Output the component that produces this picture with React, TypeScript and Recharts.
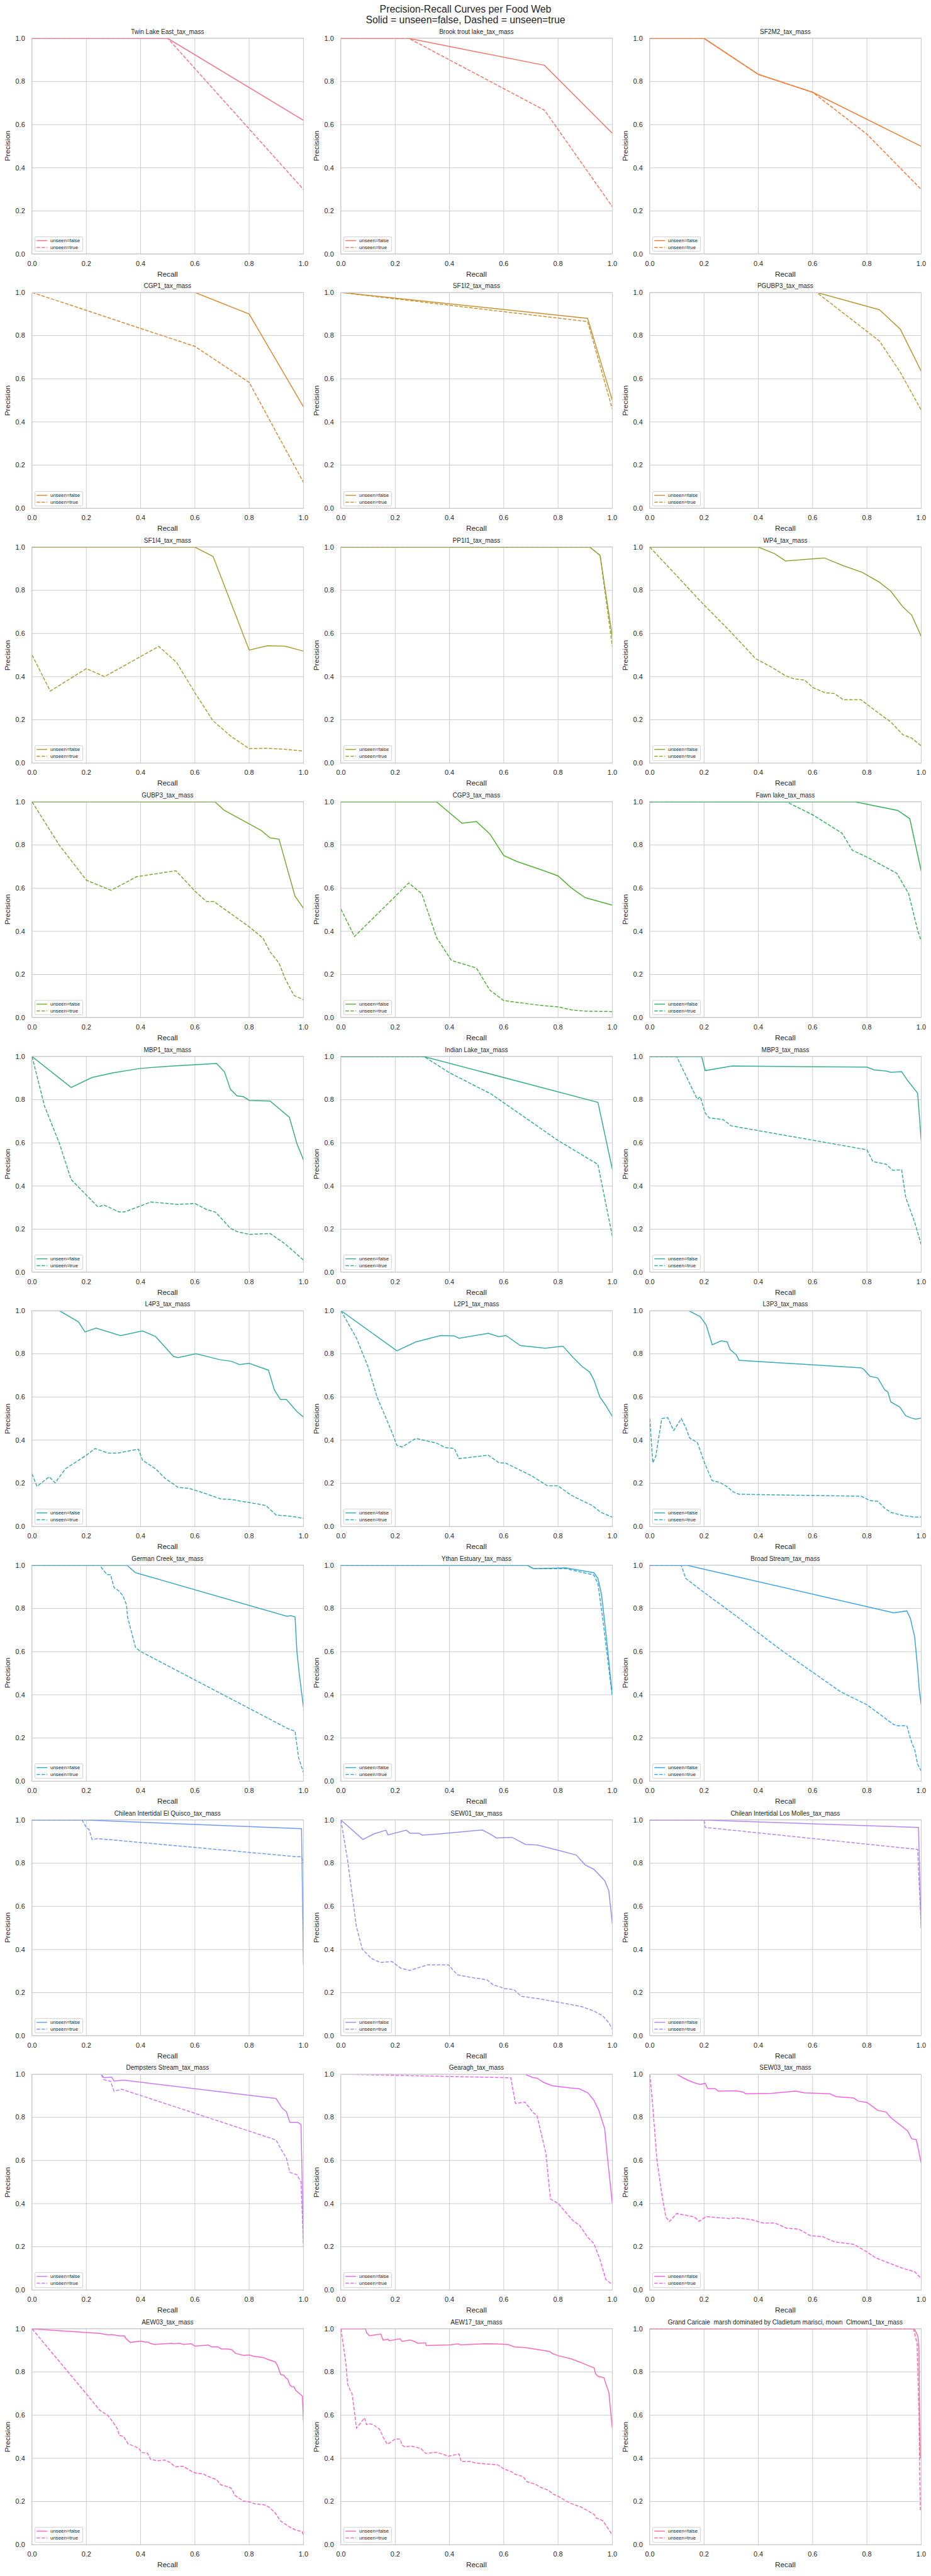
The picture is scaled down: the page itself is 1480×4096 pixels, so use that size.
import React from 'react';
import { LineChart, Line, XAxis, YAxis, CartesianGrid } from 'recharts';

type Pt = [number, number];

// ---------------- data: [recall, precision] ----------------
const twinLakeSolid: Pt[] = [[0, 1], [0.5, 1], [1, 0.62]];
const twinLakeDashed: Pt[] = [[0, 1], [0.5, 1], [1, 0.3]];

const brookTroutSolid: Pt[] = [[0, 1], [0.25, 1], [0.75, 0.875], [1, 0.56]];
const brookTroutDashed: Pt[] = [[0, 1], [0.25, 1], [0.75, 0.667], [1, 0.22]];

const sf2m2Solid: Pt[] = [[0, 1], [0.2, 1], [0.4, 0.833], [0.6, 0.75], [1, 0.5]];
const sf2m2Dashed: Pt[] = [[0, 1], [0.2, 1], [0.4, 0.833], [0.6, 0.75], [0.8, 0.556], [1, 0.3]];

const cgp1Solid: Pt[] = [[0, 1], [0.6, 1], [0.8, 0.9], [1, 0.47]];
const cgp1Dashed: Pt[] = [[0, 1], [0.2, 0.917], [0.4, 0.833], [0.6, 0.75], [0.8, 0.583], [1, 0.12]];

const sf1i2Solid: Pt[] = [[0, 1], [0.909, 0.88], [1, 0.5]];
const sf1i2Dashed: Pt[] = [[0, 1], [0.909, 0.865], [1, 0.46]];

const pgubp3Solid: Pt[] = [[0, 1], [0.615, 1], [0.846, 0.92], [0.923, 0.83], [1, 0.635]];
const pgubp3Dashed: Pt[] = [[0, 1], [0.615, 1], [0.846, 0.775], [0.923, 0.63], [1, 0.455]];

const sf1i4Solid: Pt[] = [[0, 1], [0.6, 1], [0.667, 0.957], [0.8, 0.523], [0.867, 0.543], [0.933, 0.541], [1, 0.518]];
const sf1i4Dashed: Pt[] = [[0, 0.5], [0.067, 0.333], [0.2, 0.437], [0.267, 0.4], [0.467, 0.54], [0.533, 0.465], [0.6, 0.325], [0.667, 0.195], [0.733, 0.123], [0.8, 0.066], [0.867, 0.068], [0.933, 0.063], [1, 0.055]];

const pp1i1Solid: Pt[] = [[0, 1], [0.917, 1], [0.955, 0.962], [1, 0.585]];
const pp1i1Dashed: Pt[] = [[0, 1], [0.917, 1], [0.955, 0.962], [1, 0.54]];

const wp4Solid: Pt[] = [[0, 1], [0.4, 1], [0.46, 0.97], [0.5, 0.936], [0.643, 0.95], [0.713, 0.914], [0.783, 0.883], [0.844, 0.839], [0.888, 0.796], [0.932, 0.724], [0.965, 0.685], [1, 0.587]];
const wp4Dashed: Pt[] = [[0, 1], [0.197, 0.736], [0.296, 0.61], [0.39, 0.483], [0.45, 0.443], [0.5, 0.404], [0.53, 0.39], [0.57, 0.384], [0.603, 0.348], [0.647, 0.325], [0.68, 0.322], [0.713, 0.293], [0.778, 0.293], [0.844, 0.23], [0.888, 0.19], [0.932, 0.131], [0.965, 0.115], [1, 0.079]];

const gubp3Solid: Pt[] = [[0, 1], [0.674, 1], [0.707, 0.962], [0.845, 0.867], [0.877, 0.833], [0.91, 0.827], [0.969, 0.562], [1, 0.507]];
const gubp3Dashed: Pt[] = [[0, 1], [0.1, 0.8], [0.2, 0.637], [0.291, 0.59], [0.385, 0.653], [0.53, 0.681], [0.6, 0.586], [0.643, 0.538], [0.67, 0.538], [0.8, 0.421], [0.851, 0.368], [0.877, 0.305], [0.91, 0.253], [0.932, 0.182], [0.965, 0.103], [1, 0.083]];

const cgp3Solid: Pt[] = [[0, 1], [0.352, 1], [0.446, 0.901], [0.499, 0.909], [0.549, 0.851], [0.6, 0.751], [0.648, 0.724], [0.748, 0.681], [0.8, 0.657], [0.849, 0.601], [0.9, 0.556], [1, 0.521]];
const cgp3Dashed: Pt[] = [[0, 0.503], [0.05, 0.376], [0.2, 0.562], [0.25, 0.624], [0.298, 0.574], [0.352, 0.372], [0.407, 0.265], [0.499, 0.23], [0.549, 0.127], [0.6, 0.079], [0.648, 0.071], [0.748, 0.055], [0.8, 0.05], [0.849, 0.036], [0.9, 0.03], [1, 0.028]];

const fawnLakeSolid: Pt[] = [[0, 1], [0.757, 1], [0.914, 0.96], [0.958, 0.922], [1, 0.68]];
const fawnLakeDashed: Pt[] = [[0, 1], [0.504, 1], [0.603, 0.938], [0.708, 0.855], [0.746, 0.776], [0.8, 0.744], [0.91, 0.669], [0.954, 0.574], [0.987, 0.404], [1, 0.356]];

const mbp1Solid: Pt[] = [[0, 1], [0.144, 0.857], [0.221, 0.903], [0.3, 0.925], [0.398, 0.945], [0.5, 0.955], [0.6, 0.962], [0.68, 0.968], [0.709, 0.929], [0.731, 0.848], [0.755, 0.818], [0.779, 0.814], [0.8, 0.797], [0.877, 0.794], [0.948, 0.719], [0.976, 0.596], [1, 0.521]];
const mbp1Dashed: Pt[] = [[0, 1], [0.02, 0.9], [0.046, 0.77], [0.1, 0.6], [0.144, 0.43], [0.243, 0.303], [0.265, 0.312], [0.32, 0.28], [0.341, 0.28], [0.438, 0.326], [0.534, 0.315], [0.6, 0.319], [0.643, 0.291], [0.676, 0.279], [0.731, 0.204], [0.757, 0.188], [0.8, 0.176], [0.877, 0.18], [0.932, 0.132], [1, 0.057]];

const indianLakeSolid: Pt[] = [[0, 1], [0.306, 1], [0.947, 0.788], [1, 0.478]];
const indianLakeDashed: Pt[] = [[0, 1], [0.306, 1], [0.4, 0.925], [0.554, 0.826], [0.8, 0.611], [0.947, 0.5], [1, 0.168]];

const mbp3Solid: Pt[] = [[0, 1], [0.191, 1], [0.204, 0.935], [0.303, 0.956], [0.8, 0.951], [0.827, 0.938], [0.871, 0.933], [0.888, 0.927], [0.928, 0.93], [0.95, 0.889], [0.987, 0.83], [1, 0.612]];
const mbp3Dashed: Pt[] = [[0, 1], [0.099, 1], [0.175, 0.802], [0.186, 0.814], [0.204, 0.739], [0.219, 0.716], [0.27, 0.708], [0.3, 0.679], [0.8, 0.568], [0.822, 0.513], [0.871, 0.501], [0.895, 0.473], [0.928, 0.475], [0.943, 0.347], [0.976, 0.232], [1, 0.129]];

const l4p3Solid: Pt[] = [[0, 1], [0.1, 1], [0.171, 0.948], [0.195, 0.901], [0.236, 0.919], [0.326, 0.884], [0.407, 0.906], [0.455, 0.88], [0.521, 0.788], [0.538, 0.782], [0.604, 0.8], [0.691, 0.773], [0.735, 0.765], [0.764, 0.75], [0.8, 0.756], [0.871, 0.724], [0.893, 0.632], [0.915, 0.588], [0.937, 0.588], [0.954, 0.564], [0.976, 0.532], [1, 0.507]];
const l4p3Dashed: Pt[] = [[0, 0.243], [0.018, 0.185], [0.063, 0.23], [0.085, 0.202], [0.123, 0.267], [0.2, 0.33], [0.232, 0.361], [0.28, 0.34], [0.315, 0.34], [0.392, 0.358], [0.407, 0.307], [0.455, 0.267], [0.49, 0.223], [0.538, 0.181], [0.578, 0.176], [0.621, 0.16], [0.696, 0.127], [0.735, 0.125], [0.768, 0.117], [0.8, 0.111], [0.862, 0.097], [0.899, 0.053], [0.937, 0.049], [0.976, 0.043], [1, 0.037]];

const l2p1Solid: Pt[] = [[0, 1], [0.206, 0.814], [0.276, 0.855], [0.368, 0.885], [0.418, 0.883], [0.435, 0.872], [0.543, 0.895], [0.582, 0.879], [0.608, 0.885], [0.661, 0.838], [0.753, 0.826], [0.818, 0.835], [0.856, 0.782], [0.888, 0.742], [0.917, 0.715], [0.932, 0.679], [0.954, 0.6], [0.976, 0.56], [1, 0.51]];
const l2p1Dashed: Pt[] = [[0, 1], [0.057, 0.873], [0.1, 0.739], [0.133, 0.6], [0.188, 0.436], [0.206, 0.376], [0.225, 0.368], [0.276, 0.408], [0.352, 0.386], [0.385, 0.365], [0.418, 0.361], [0.435, 0.314], [0.543, 0.33], [0.582, 0.295], [0.608, 0.293], [0.702, 0.235], [0.761, 0.188], [0.8, 0.188], [0.849, 0.144], [0.888, 0.12], [0.926, 0.097], [0.958, 0.065], [1, 0.043]];

const l3p3Solid: Pt[] = [[0, 1], [0.143, 1], [0.186, 0.972], [0.208, 0.933], [0.23, 0.842], [0.263, 0.86], [0.285, 0.855], [0.296, 0.82], [0.318, 0.796], [0.329, 0.77], [0.779, 0.735], [0.789, 0.727], [0.811, 0.696], [0.84, 0.688], [0.866, 0.632], [0.877, 0.624], [0.888, 0.577], [0.921, 0.553], [0.943, 0.513], [0.965, 0.502], [0.98, 0.497], [1, 0.502]];
const l3p3Dashed: Pt[] = [[0, 0.5], [0.011, 0.295], [0.022, 0.325], [0.044, 0.5], [0.066, 0.504], [0.088, 0.444], [0.116, 0.5], [0.132, 0.46], [0.147, 0.409], [0.175, 0.389], [0.204, 0.287], [0.23, 0.212], [0.257, 0.204], [0.285, 0.184], [0.307, 0.16], [0.329, 0.149], [0.779, 0.14], [0.811, 0.12], [0.84, 0.116], [0.866, 0.084], [0.888, 0.065], [0.932, 0.051], [0.976, 0.043], [1, 0.043]];

const germanCreekSolid: Pt[] = [[0, 1], [0.35, 1], [0.381, 0.966], [0.398, 0.96], [0.939, 0.764], [0.954, 0.767], [0.969, 0.761], [0.976, 0.599], [0.985, 0.492], [1, 0.342]];
const germanCreekDashed: Pt[] = [[0, 1], [0.249, 1], [0.276, 0.957], [0.289, 0.957], [0.302, 0.897], [0.319, 0.882], [0.335, 0.859], [0.348, 0.816], [0.352, 0.76], [0.381, 0.62], [0.398, 0.602], [0.943, 0.243], [0.969, 0.231], [0.982, 0.109], [1, 0.04]];

const ythanSolid: Pt[] = [[0, 1], [0.687, 1], [0.709, 0.985], [0.829, 0.988], [0.932, 0.966], [0.947, 0.939], [0.96, 0.867], [0.976, 0.691], [1, 0.4]];
const ythanDashed: Pt[] = [[0, 1], [0.687, 1], [0.709, 0.985], [0.829, 0.985], [0.932, 0.955], [0.947, 0.915], [0.965, 0.75], [1, 0.39]];

const broadStreamSolid: Pt[] = [[0, 1], [0.138, 1], [0.899, 0.78], [0.947, 0.789], [0.96, 0.755], [0.969, 0.706], [0.976, 0.668], [0.987, 0.522], [0.993, 0.423], [1, 0.354]];
const broadStreamDashed: Pt[] = [[0, 1], [0.116, 1], [0.132, 0.94], [0.197, 0.877], [0.296, 0.786], [0.493, 0.599], [0.702, 0.415], [0.8, 0.354], [0.899, 0.262], [0.914, 0.257], [0.947, 0.257], [0.965, 0.178], [0.976, 0.147], [0.987, 0.078], [1, 0.047]];

const elQuiscoSolid: Pt[] = [[0, 1], [0.2, 1], [0.993, 0.96], [1, 0.33]];
const elQuiscoDashed: Pt[] = [[0, 1], [0.184, 1], [0.2, 0.966], [0.21, 0.956], [0.221, 0.91], [0.243, 0.914], [0.976, 0.83], [0.993, 0.83], [1, 0.8]];

const sew01Solid: Pt[] = [[0, 1], [0.081, 0.91], [0.12, 0.935], [0.166, 0.953], [0.173, 0.931], [0.241, 0.953], [0.254, 0.939], [0.287, 0.939], [0.3, 0.93], [0.363, 0.936], [0.521, 0.954], [0.55, 0.935], [0.573, 0.917], [0.63, 0.92], [0.68, 0.887], [0.724, 0.884], [0.8, 0.86], [0.867, 0.838], [0.9, 0.792], [0.932, 0.772], [0.972, 0.719], [0.987, 0.673], [1, 0.52]];
const sew01Dashed: Pt[] = [[0, 1], [0.024, 0.818], [0.057, 0.505], [0.079, 0.401], [0.112, 0.359], [0.144, 0.34], [0.188, 0.344], [0.221, 0.313], [0.254, 0.303], [0.319, 0.329], [0.396, 0.329], [0.429, 0.283], [0.473, 0.272], [0.538, 0.26], [0.56, 0.237], [0.604, 0.219], [0.637, 0.214], [0.665, 0.183], [0.724, 0.173], [0.8, 0.156], [0.888, 0.135], [0.932, 0.115], [0.965, 0.092], [0.987, 0.061], [1, 0.031]];

const losMollesSolid: Pt[] = [[0, 1], [0.2, 1], [0.99, 0.966], [1, 0.5]];
const losMollesDashed: Pt[] = [[0, 1], [0.2, 1], [0.204, 0.966], [0.987, 0.864], [1, 0.5]];

const dempstersSolid: Pt[] = [[0, 1], [0.254, 1], [0.265, 0.983], [0.293, 0.986], [0.302, 0.968], [0.337, 0.972], [0.899, 0.887], [0.921, 0.843], [0.937, 0.826], [0.95, 0.776], [0.98, 0.776], [0.991, 0.766], [1, 0.223]];
const dempstersDashed: Pt[] = [[0, 1], [0.254, 1], [0.265, 0.974], [0.289, 0.967], [0.302, 0.921], [0.33, 0.93], [0.899, 0.695], [0.917, 0.652], [0.937, 0.612], [0.95, 0.544], [0.976, 0.534], [0.991, 0.5], [1, 0.2]];

const gearaghSolid: Pt[] = [[0, 1], [0.678, 1], [0.707, 0.984], [0.722, 0.982], [0.746, 0.962], [0.779, 0.946], [0.845, 0.936], [0.877, 0.933], [0.91, 0.913], [0.932, 0.879], [0.95, 0.833], [0.972, 0.746], [0.981, 0.627], [1, 0.401]];
const gearaghDashed: Pt[] = [[0, 1], [0.626, 0.983], [0.643, 0.864], [0.678, 0.87], [0.711, 0.818], [0.722, 0.81], [0.755, 0.635], [0.772, 0.421], [0.8, 0.401], [0.854, 0.322], [0.88, 0.298], [0.91, 0.243], [0.932, 0.215], [0.954, 0.143], [0.976, 0.048], [1, 0.025]];

const sew03Solid: Pt[] = [[0, 1], [0.099, 1], [0.121, 0.984], [0.143, 0.97], [0.164, 0.96], [0.186, 0.952], [0.204, 0.958], [0.213, 0.933], [0.241, 0.933], [0.252, 0.921], [0.318, 0.923], [0.344, 0.917], [0.353, 0.909], [0.45, 0.911], [0.537, 0.921], [0.57, 0.913], [0.664, 0.909], [0.686, 0.896], [0.752, 0.889], [0.768, 0.875], [0.8, 0.869], [0.84, 0.832], [0.871, 0.824], [0.888, 0.798], [0.921, 0.766], [0.95, 0.737], [0.965, 0.7], [0.982, 0.697], [1, 0.588]];
const sew03Dashed: Pt[] = [[0, 1], [0.011, 0.85], [0.026, 0.604], [0.044, 0.445], [0.059, 0.338], [0.072, 0.317], [0.099, 0.354], [0.132, 0.346], [0.164, 0.338], [0.182, 0.318], [0.208, 0.34], [0.296, 0.33], [0.318, 0.334], [0.373, 0.326], [0.417, 0.31], [0.461, 0.31], [0.504, 0.286], [0.548, 0.282], [0.592, 0.251], [0.636, 0.247], [0.68, 0.223], [0.752, 0.211], [0.8, 0.176], [0.833, 0.148], [0.866, 0.132], [0.899, 0.116], [0.932, 0.1], [0.976, 0.084], [1, 0.052]];

const aew03Solid: Pt[] = [[0, 1], [0.249, 0.979], [0.279, 0.972], [0.298, 0.973], [0.321, 0.967], [0.341, 0.967], [0.345, 0.956], [0.362, 0.937], [0.4, 0.943], [0.416, 0.939], [0.429, 0.939], [0.435, 0.932], [0.452, 0.928], [0.515, 0.933], [0.519, 0.931], [0.545, 0.933], [0.557, 0.928], [0.587, 0.931], [0.6, 0.92], [0.65, 0.925], [0.661, 0.916], [0.684, 0.917], [0.697, 0.907], [0.721, 0.907], [0.736, 0.903], [0.75, 0.886], [0.78, 0.877], [0.8, 0.879], [0.815, 0.873], [0.852, 0.867], [0.871, 0.857], [0.89, 0.849], [0.897, 0.846], [0.905, 0.828], [0.916, 0.788], [0.927, 0.786], [0.935, 0.772], [0.942, 0.767], [0.95, 0.74], [0.957, 0.732], [0.965, 0.731], [0.972, 0.714], [0.991, 0.694], [0.996, 0.688], [1, 0.575]];
const aew03Dashed: Pt[] = [[0, 1], [0.1, 0.849], [0.199, 0.7], [0.249, 0.623], [0.279, 0.599], [0.298, 0.568], [0.315, 0.535], [0.321, 0.506], [0.337, 0.502], [0.354, 0.466], [0.373, 0.458], [0.394, 0.446], [0.403, 0.427], [0.425, 0.424], [0.437, 0.395], [0.463, 0.389], [0.489, 0.392], [0.508, 0.381], [0.527, 0.361], [0.557, 0.363], [0.575, 0.349], [0.598, 0.333], [0.631, 0.327], [0.661, 0.309], [0.68, 0.301], [0.695, 0.277], [0.714, 0.271], [0.733, 0.262], [0.748, 0.228], [0.778, 0.202], [0.8, 0.198], [0.819, 0.19], [0.86, 0.183], [0.875, 0.172], [0.897, 0.145], [0.916, 0.109], [0.931, 0.097], [0.95, 0.081], [0.972, 0.067], [0.995, 0.061], [1, 0.043]];

const aew17Solid: Pt[] = [[0, 1], [0.091, 1], [0.094, 0.983], [0.105, 0.968], [0.147, 0.976], [0.155, 0.948], [0.174, 0.952], [0.178, 0.945], [0.218, 0.954], [0.225, 0.942], [0.254, 0.948], [0.272, 0.941], [0.283, 0.933], [0.312, 0.935], [0.314, 0.923], [0.403, 0.926], [0.432, 0.931], [0.439, 0.926], [0.533, 0.931], [0.577, 0.93], [0.617, 0.927], [0.639, 0.916], [0.679, 0.913], [0.715, 0.906], [0.769, 0.895], [0.78, 0.885], [0.802, 0.875], [0.849, 0.861], [0.882, 0.845], [0.911, 0.83], [0.933, 0.819], [0.938, 0.792], [0.947, 0.78], [0.969, 0.774], [0.976, 0.746], [0.987, 0.707], [1, 0.54]];
const aew17Dashed: Pt[] = [[0, 1], [0.011, 0.905], [0.018, 0.842], [0.025, 0.742], [0.033, 0.718], [0.041, 0.699], [0.051, 0.604], [0.057, 0.54], [0.073, 0.564], [0.087, 0.588], [0.094, 0.556], [0.105, 0.56], [0.12, 0.556], [0.131, 0.544], [0.142, 0.536], [0.156, 0.497], [0.171, 0.465], [0.2, 0.489], [0.218, 0.489], [0.225, 0.461], [0.236, 0.452], [0.258, 0.457], [0.294, 0.446], [0.312, 0.423], [0.352, 0.428], [0.396, 0.41], [0.435, 0.42], [0.443, 0.386], [0.475, 0.386], [0.497, 0.378], [0.533, 0.374], [0.577, 0.37], [0.599, 0.352], [0.628, 0.338], [0.642, 0.326], [0.671, 0.315], [0.686, 0.291], [0.715, 0.281], [0.733, 0.267], [0.766, 0.251], [0.78, 0.235], [0.802, 0.223], [0.831, 0.201], [0.853, 0.188], [0.882, 0.176], [0.911, 0.156], [0.933, 0.14], [0.94, 0.124], [0.965, 0.111], [0.983, 0.077], [0.998, 0.049]];

const grandCaricaieSolid: Pt[] = [[0, 1], [0.975, 1], [0.988, 0.965], [0.992, 0.9], [0.994, 0.6], [0.997, 0.4]];
const grandCaricaieDashed: Pt[] = [[0, 1], [0.972, 1], [0.985, 0.93], [0.992, 0.6], [0.995, 0.3], [0.997, 0.16]];

const panelTitles: string[] = [
  'Twin Lake East_tax_mass', 'Brook trout lake_tax_mass', 'SF2M2_tax_mass',
  'CGP1_tax_mass', 'SF1I2_tax_mass', 'PGUBP3_tax_mass',
  'SF1I4_tax_mass', 'PP1I1_tax_mass', 'WP4_tax_mass',
  'GUBP3_tax_mass', 'CGP3_tax_mass', 'Fawn lake_tax_mass',
  'MBP1_tax_mass', 'Indian Lake_tax_mass', 'MBP3_tax_mass',
  'L4P3_tax_mass', 'L2P1_tax_mass', 'L3P3_tax_mass',
  'German Creek_tax_mass', 'Ythan Estuary_tax_mass', 'Broad Stream_tax_mass',
  'Chilean Intertidal El Quisco_tax_mass', 'SEW01_tax_mass', 'Chilean Intertidal Los Molles_tax_mass',
  'Dempsters Stream_tax_mass', 'Gearagh_tax_mass', 'SEW03_tax_mass',
  'AEW03_tax_mass', 'AEW17_tax_mass', 'Grand Caricaie  marsh dominated by Cladietum marisci, mown  Clmown1_tax_mass',
];

const solidSeries: Pt[][] = [
  twinLakeSolid, brookTroutSolid, sf2m2Solid, cgp1Solid, sf1i2Solid, pgubp3Solid,
  sf1i4Solid, pp1i1Solid, wp4Solid, gubp3Solid, cgp3Solid, fawnLakeSolid,
  mbp1Solid, indianLakeSolid, mbp3Solid, l4p3Solid, l2p1Solid, l3p3Solid,
  germanCreekSolid, ythanSolid, broadStreamSolid, elQuiscoSolid, sew01Solid, losMollesSolid,
  dempstersSolid, gearaghSolid, sew03Solid, aew03Solid, aew17Solid, grandCaricaieSolid,
];
const dashedSeries: Pt[][] = [
  twinLakeDashed, brookTroutDashed, sf2m2Dashed, cgp1Dashed, sf1i2Dashed, pgubp3Dashed,
  sf1i4Dashed, pp1i1Dashed, wp4Dashed, gubp3Dashed, cgp3Dashed, fawnLakeDashed,
  mbp1Dashed, indianLakeDashed, mbp3Dashed, l4p3Dashed, l2p1Dashed, l3p3Dashed,
  germanCreekDashed, ythanDashed, broadStreamDashed, elQuiscoDashed, sew01Dashed, losMollesDashed,
  dempstersDashed, gearaghDashed, sew03Dashed, aew03Dashed, aew17Dashed, grandCaricaieDashed,
];

const axisTicks = [0, 0.2, 0.4, 0.6, 0.8, 1];

// ---------------- HUSL palette (seaborn husl_palette) ----------------
const HM = [[3.2406, -1.5372, -0.4986], [-0.9689, 1.8758, 0.0415], [0.0557, -0.204, 1.057]];
function maxChroma(L: number, H: number) {
  const hr = (H * Math.PI) / 180;
  const sinH = Math.sin(hr), cosH = Math.cos(hr);
  const sub1 = Math.pow(L + 16, 3) / 1560896;
  const sub2 = sub1 > 0.008856 ? sub1 : L / 903.3;
  let result = Infinity;
  for (const [m1, m2, m3] of HM) {
    const top = (0.99915 * m1 + 1.05122 * m2 + 1.1446 * m3) * sub2;
    const rb = 0.8633 * m3 - 0.17266 * m2;
    const lb = 0.12949 * m3 - 0.38848 * m1;
    const bottom = (rb * sinH + lb * cosH) * sub2;
    for (const t of [0, 1]) {
      const C = (L * (top - 1.05122 * t)) / (bottom + 0.17266 * sinH * t);
      if (C > 0 && C < result) result = C;
    }
  }
  return result;
}
function huslToHex(H: number, S: number, L: number) {
  const C = (maxChroma(L, H) / 100) * S;
  const hr = (H * Math.PI) / 180;
  const U = Math.cos(hr) * C, V = Math.sin(hr) * C;
  const t = (L + 16) / 116;
  const varY = Math.pow(t, 3) > 0.008856 ? Math.pow(t, 3) : (116 * t - 16) / 903.3;
  const varU = U / (13 * L) + 0.19784;
  const varV = V / (13 * L) + 0.46834;
  const Y = varY;
  const X = 0 - (9 * Y * varU) / ((varU - 4) * varV - varU * varV);
  const Z = (9 * Y - 15 * varV * Y - varV * X) / (3 * varV);
  const out = HM.map((row) => {
    const c = row[0] * X + row[1] * Y + row[2] * Z;
    const v = c <= 0.0031308 ? 12.92 * c : 1.055 * Math.pow(c, 1 / 2.4) - 0.055;
    const cl = Math.min(1, Math.max(0, v));
    return Math.round(cl * 255).toString(16).padStart(2, '0');
  });
  return '#' + out.join('');
}
function huslPalette(n: number) {
  const res: string[] = [];
  for (let i = 0; i < n; i++) {
    const h = ((i / n + 0.01) % 1) * 359;
    res.push(huslToHex(h, 0.9 * 99, 0.65 * 99));
  }
  return res;
}

// ---------------- layout (0.817 of reference) ----------------
const FONT = '"Liberation Sans", Arial, Helvetica, sans-serif';
const TEXT = '#262626';
const GRID = '#cccccc';
const PLOT_W = 431.4;
const PLOT_H = 343.1;
const COL_X = [50.65, 541.7, 1032.7];
const ROW_Y0 = 60.7;
const ROW_STEP = 404.7;
const YW = 46;
const TM = 10;
const RM = 16;
const XH = 44;
const LINE_W = 1.5;
const DASH = '5.5 2.4';

const fmt = (v: number) => v.toFixed(1);
const toRows = (a: Pt[]) => a.map(([r, p]) => ({ r, p }));

function Legend({ color }: { color: string }) {
  return (
    <div
      style={{
        position: 'absolute',
        left: YW + 4.1,
        top: TM + PLOT_H - 3.5 - 24.4,
        width: 76.8,
        height: 24.4,
        boxSizing: 'border-box',
        border: '1px solid rgba(204,204,204,0.8)',
        borderRadius: 3,
        background: 'rgba(255,255,255,0.8)',
      }}
    >
      <svg width={76.8} height={24.4} style={{ position: 'absolute', left: -1, top: -1 }}>
        <line x1={3.2} x2={20} y1={6.6} y2={6.6} stroke={color} strokeWidth={LINE_W} />
        <line x1={3.2} x2={20} y1={17.6} y2={17.6} stroke={color} strokeWidth={LINE_W} strokeDasharray={DASH} />
        <text x={25} y={6.6} dy="0.35em" fontSize={7.9} fontFamily={FONT} fill={TEXT}>unseen=false</text>
        <text x={25} y={17.6} dy="0.35em" fontSize={7.9} fontFamily={FONT} fill={TEXT}>unseen=true</text>
      </svg>
    </div>
  );
}

function Panel({ idx, color }: { idx: number; color: string }) {
  const r = Math.floor(idx / 3);
  const c = idx % 3;
  const W = YW + PLOT_W + RM;
  const H = TM + PLOT_H + XH;
  const left = COL_X[c] - YW;
  const top = ROW_Y0 + r * ROW_STEP - TM;
  const solid = toRows(solidSeries[idx]);
  const dashed = toRows(dashedSeries[idx]);
  const tickStyle = { fill: TEXT, fontSize: 10.9, fontFamily: FONT };
  const centered: React.CSSProperties = {
    position: 'absolute',
    transform: 'translate(-50%, -50%)',
    whiteSpace: 'pre',
    lineHeight: 1,
    color: TEXT,
    fontFamily: FONT,
  };
  return (
    <div style={{ position: 'absolute', left, top, width: W, height: H }}>
      <LineChart width={W} height={H} margin={{ top: TM, right: RM, left: 0, bottom: 0 }}>
        <CartesianGrid stroke={GRID} strokeWidth={1} />
        <XAxis
          type="number"
          dataKey="r"
          domain={[0, 1]}
          ticks={axisTicks}
          interval={0}
          allowDataOverflow
          tickFormatter={fmt}
          tick={tickStyle}
          tickLine={false}
          axisLine={false}
          tickSize={0}
          tickMargin={11.3}
          height={XH}
        />
        <YAxis
          type="number"
          domain={[0, 1]}
          ticks={axisTicks}
          interval={0}
          allowDataOverflow
          tickFormatter={fmt}
          tick={tickStyle}
          tickLine={false}
          axisLine={false}
          tickSize={0}
          tickMargin={11.3}
          width={YW}
        />
        <Line data={solid} dataKey="p" type="linear" stroke={color} strokeWidth={LINE_W} dot={false} activeDot={false} isAnimationActive={false} />
        <Line data={dashed} dataKey="p" type="linear" stroke={color} strokeWidth={LINE_W} strokeDasharray={DASH} dot={false} activeDot={false} isAnimationActive={false} />
      </LineChart>
      <div
        style={{
          position: 'absolute',
          left: YW - 0.6,
          top: TM - 0.6,
          width: PLOT_W + 1.2,
          height: PLOT_H + 1.2,
          boxSizing: 'border-box',
          border: `1.2px solid ${GRID}`,
          pointerEvents: 'none',
        }}
      />
      <div style={{ ...centered, left: YW + PLOT_W / 2, top: TM - 10, fontSize: 10 }}>{panelTitles[idx]}</div>
      <div style={{ ...centered, left: YW + PLOT_W / 2, top: TM + PLOT_H + 32.9, fontSize: 11.8 }}>Recall</div>
      <div
        style={{
          ...centered,
          left: YW - 37.7,
          top: TM + PLOT_H / 2,
          fontSize: 11.8,
          transform: 'translate(-50%, -50%) rotate(-90deg)',
        }}
      >
        Precision
      </div>
      <Legend color={color} />
    </div>
  );
}

export default function App() {
  const colors = huslPalette(30);
  return (
    <div style={{ position: 'absolute', left: 0, top: 0, width: 1480, height: 4096, background: '#ffffff', fontFamily: FONT }}>
      <div style={{ position: 'absolute', left: 740, top: 15, transform: 'translate(-50%, -50%)', fontSize: 15.8, color: TEXT, whiteSpace: 'nowrap', lineHeight: 1 }}>
        Precision-Recall Curves per Food Web
      </div>
      <div style={{ position: 'absolute', left: 740, top: 31.9, transform: 'translate(-50%, -50%)', fontSize: 15.8, color: TEXT, whiteSpace: 'nowrap', lineHeight: 1 }}>
        Solid = unseen=false, Dashed = unseen=true
      </div>
      {panelTitles.map((_, i) => (
        <Panel key={i} idx={i} color={colors[i]} />
      ))}
    </div>
  );
}
